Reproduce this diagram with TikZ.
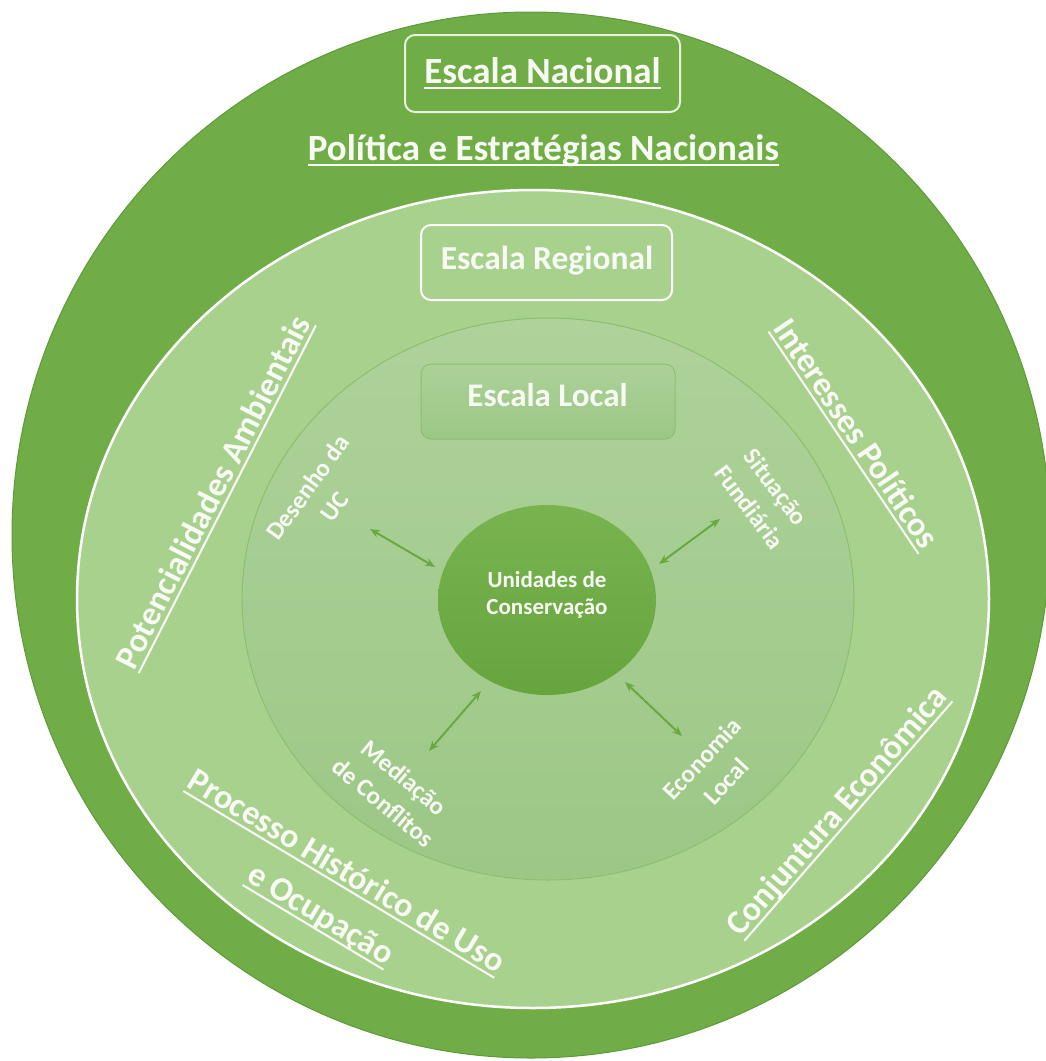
\documentclass[tikz,border=0pt]{standalone}
\usepackage{fontspec}
\setmainfont{Carlito}
\usetikzlibrary{arrows.meta,shapes.geometric}
\definecolor{dkgreen}{HTML}{70AD47}
\definecolor{dkline}{HTML}{5E9A3A}
\definecolor{midgreen}{HTML}{A9D18E}
\definecolor{intop}{HTML}{AED29A}
\definecolor{inbot}{HTML}{9CC786}
\definecolor{inline}{HTML}{8DBE70}
\definecolor{ctop}{HTML}{78B350}
\definecolor{cbot}{HTML}{66A53E}
\definecolor{arrowgreen}{HTML}{6AA843}
\definecolor{txt}{HTML}{F7FBF4}
\definecolor{natborder}{HTML}{E6F2DE}
\newsavebox\ulbox
\newcommand\ulx[1]{\sbox\ulbox{#1}\leavevmode\rlap{\rule[-0.17em]{\wd\ulbox}{0.06em}}\usebox\ulbox}
\tikzset{
  ring/.style={ellipse, inner sep=0pt},
  wtext/.style={text=txt, inner sep=0pt, font=\bfseries},
  bigtext/.style={wtext, font=\bfseries\fontsize{34}{50}\selectfont, align=center},
  smalltext/.style={wtext, font=\bfseries\fontsize{25}{33}\selectfont, align=center},
  twoway/.style={{Stealth[length=10pt,width=8pt]}-{Stealth[length=10pt,width=8pt]}, line width=2pt, draw=arrowgreen},
  scalebox/.style={rounded corners=10pt, inner sep=0pt, minimum height=75pt}
}
\begin{document}
\begin{tikzpicture}[x=1pt,y=-1pt]
\useasboundingbox (0,0) rectangle (1045,1061);
\fill[white] (0,0) rectangle (1045,1061);
% rings
\node (outer) [ring, fill=dkgreen, draw=dkline, line width=1pt, minimum width=1038pt, minimum height=1046pt] at (531,535) {};
\node (middle) [ring, fill=midgreen, draw=white, line width=2.5pt, minimum width=912pt, minimum height=818pt] at (533,599) {};
\node (inner) [ring, top color=intop, bottom color=inbot, draw=inline, line width=1pt, minimum width=612pt, minimum height=562pt] at (548,599) {};
\node (uc) [ring, top color=ctop, bottom color=cbot, draw=none, minimum width=218pt, minimum height=190pt] at (547,600) {};
% scale boxes
\node (nacbox) [scalebox, fill=dkgreen, draw=natborder, line width=2pt, minimum width=275pt, minimum height=77pt] at (542.5,73.5) {};
\node (regbox) [scalebox, fill=midgreen, draw=white, line width=2pt, minimum width=251pt] at (546.5,262.5) {};
\node (locbox) [scalebox, top color=intop!90!inbot, bottom color=inbot, draw=inline, line width=1pt, minimum width=254pt] at (548,401.5) {};
% horizontal texts
\node (nac) [wtext, font=\bfseries\fontsize{37}{44}\selectfont, anchor=base] at (542.5,83) {\ulx{Escala Nacional}};
\node (pol) [wtext, font=\bfseries\fontsize{37}{44}\selectfont, anchor=base] at (543.5,160) {\ulx{Política e Estratégias Nacionais}};
\node (reg) [wtext, font=\bfseries\fontsize{33.5}{40}\selectfont, anchor=base] at (547,269) {Escala Regional};
\node (loc) [wtext, font=\bfseries\fontsize{33}{40}\selectfont, anchor=base] at (547.5,406) {Escala Local};
\node (uctext) [smalltext, font=\bfseries\fontsize{23}{27}\selectfont] at (547,595) {Unidades de\\Conservação};
% rotated outer labels
\node (pot) [bigtext, rotate=63] at (215,493) {\ulx{Potencialidades Ambientais}};
\node (int) [bigtext, rotate=-56] at (855,435) {\ulx{Interesses Políticos}};
\node (conj) [bigtext, rotate=49] at (838,812) {\ulx{Conjuntura Econômica}};
\node (proc) [bigtext, rotate=-31] at (333,894) {\ulx{Processo Histórico de Uso}\\\ulx{e Ocupação}};
% rotated inner labels
\node (des) [smalltext, rotate=54] at (321,497) {Desenho da\\UC};
\node (sit) [smalltext, rotate=-53] at (763,497) {Situação\\Fundiária};
\node (med) [smalltext, rotate=-40] at (394,790) {Mediação\\de Conflitos};
\node (eco) [smalltext, rotate=47] at (714,770) {Economia\\Local};
% arrow ends
\coordinate (d1) at (370,529); \coordinate (d2) at (435,567);
\coordinate (s1) at (720,519); \coordinate (s2) at (659,564);
\coordinate (m1) at (481,691); \coordinate (m2) at (429,751);
\coordinate (e1) at (625,682); \coordinate (e2) at (682,736);
\draw[twoway] (d1) -- (d2);
\draw[twoway] (s1) -- (s2);
\draw[twoway] (m1) -- (m2);
\draw[twoway] (e1) -- (e2);
\end{tikzpicture}
\end{document}
